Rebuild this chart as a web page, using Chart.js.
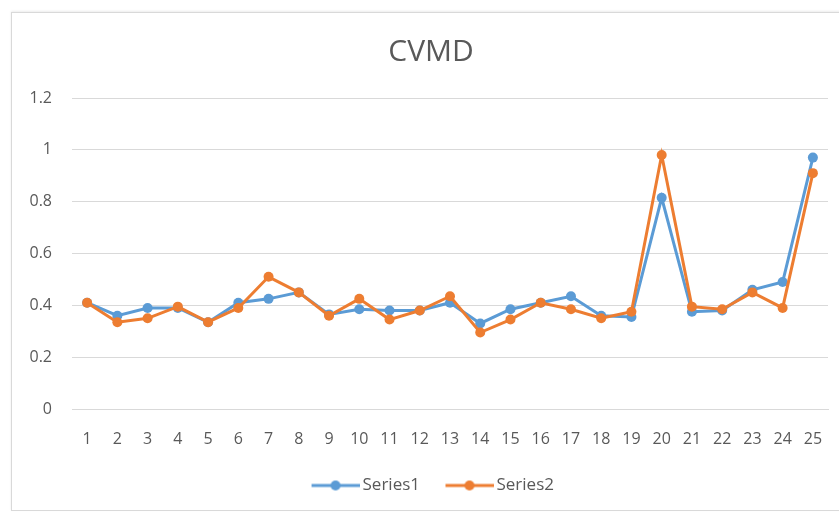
<!DOCTYPE html>
<html>
<head>
<meta charset="utf-8">
<script src="https://cdn.jsdelivr.net/npm/chart.js@4/dist/chart.umd.min.js"></script>
<style>
  html, body { margin: 0; padding: 0; background: #ffffff; }
  #wrap { position: relative; width: 839px; height: 512px; }
  #frame { position: absolute; left: 11px; top: 12px; width: 840px; height: 497px; border: 1px solid #d9d9d9; box-shadow: 0 -1px 2px rgba(0,0,0,0.08); }
  canvas { position: absolute; left: 0; top: 0; }
</style>
</head>
<body>
<div id="wrap">
  <div id="frame"></div>
  <canvas id="lineChart" width="839" height="512"></canvas>
</div>
<script>
const categories = ['1','2','3','4','5','6','7','8','9','10','11','12','13','14','15','16','17','18','19','20','21','22','23','24','25'];
const series1 = [0.41,0.36,0.39,0.39,0.335,0.41,0.425,0.45,0.365,0.385,0.38,0.38,0.41,0.33,0.385,0.41,0.435,0.36,0.355,0.815,0.375,0.38,0.46,0.49,0.97];
const series2 = [0.41,0.335,0.35,0.395,0.335,0.39,0.51,0.45,0.36,0.425,0.345,0.38,0.435,0.295,0.345,0.41,0.385,0.35,0.375,0.98,0.395,0.385,0.45,0.39,0.91];
const yTicks = [0, 0.2, 0.4, 0.6, 0.8, 1, 1.2];

const blue = '#5b9bd5';
const orange = '#ed7d31';
const textColor = '#595959';
const gridColor = '#d9d9d9';
const fontFamily = '"Open Sans", "Liberation Sans", sans-serif';

const legendBox = 58;

// legend marker: line with a dot, like Excel, sitting at the right of a wider box
function legendMarker(color) {
    const c = document.createElement('canvas');
    c.width = legendBox + 11;
    c.height = 12;
    const g = c.getContext('2d');
    const x0 = c.width - 48;
    g.strokeStyle = color;
    g.lineWidth = 3;
    g.beginPath();
    g.moveTo(x0, 6);
    g.lineTo(x0 + 48, 6);
    g.stroke();
    g.fillStyle = color;
    g.beginPath();
    g.arc(x0 + 24, 6, 5, 0, Math.PI * 2);
    g.fill();
    return c;
}

// the y labels stick out left of the narrow y box, so widen its clip area
// and nudge the legend a bit left
const nudgePlugin = {
    id: 'nudge',
    afterLayout(chart) {
        chart.legend.left -= 6;
        chart.legend.right -= 6;
    },
    beforeDraw(chart) {
        chart.scales.y.left = 0;
    }
};

function initLineChart() {
    const ctx = document.getElementById('lineChart');
    new Chart(ctx, {
        type: 'line',
        data: {
            labels: categories,
            datasets: [{
                label: 'Series1',
                data: series1,
                borderColor: blue,
                backgroundColor: blue,
                borderWidth: 3,
                pointRadius: 5,
                pointHoverRadius: 5,
                pointBorderWidth: 0,
                pointStyle: 'circle',
                tension: 0,
                order: 1
            }, {
                label: 'Series2',
                data: series2,
                borderColor: orange,
                backgroundColor: orange,
                borderWidth: 3,
                pointRadius: 5,
                pointHoverRadius: 5,
                pointBorderWidth: 0,
                pointStyle: 'circle',
                tension: 0,
                order: 0
            }]
        },
        options: {
            responsive: false,
            animation: false,
            layout: { padding: { left: 34, right: 11, top: 0, bottom: 8 } },
            plugins: {
                title: {
                    display: true,
                    text: 'CVMD',
                    color: textColor,
                    font: { family: fontFamily, size: 30, weight: 'normal' },
                    padding: { top: 34, bottom: 28 }
                },
                legend: {
                    position: 'bottom',
                    labels: {
                        color: textColor,
                        font: { family: fontFamily, size: 17 },
                        usePointStyle: true,
                        pointStyleWidth: legendBox,
                        padding: 10,
                        generateLabels: function(chart) {
                            return chart.data.datasets.map(function(ds, i) {
                                return {
                                    text: ds.label,
                                    fontColor: textColor,
                                    pointStyle: legendMarker(ds.borderColor),
                                    datasetIndex: i,
                                    lineWidth: 0,
                                    strokeStyle: ds.borderColor,
                                    fillStyle: ds.borderColor
                                };
                            });
                        }
                    }
                },
                tooltip: { enabled: false }
            },
            scales: {
                x: {
                    offset: true,
                    grid: { display: false },
                    border: { display: true, color: gridColor, width: 1 },
                    ticks: {
                        color: textColor,
                        font: { family: fontFamily, size: 16 },
                        padding: 13,
                        maxRotation: 0,
                        autoSkip: false
                    },
                    afterFit: function(scale) { scale.height = 58; }
                },
                y: {
                    min: 0,
                    max: 1.2,
                    afterBuildTicks: function(scale) {
                        scale.ticks = yTicks.map(function(v) { return { value: v }; });
                    },
                    grid: { color: gridColor, drawTicks: false },
                    border: { display: false },
                    ticks: {
                        color: textColor,
                        font: { family: fontFamily, size: 16 },
                        padding: 20,
                        callback: function(v) { return String(Math.round(v * 10) / 10); }
                    },
                    afterFit: function(scale) { scale.width = 38; }
                }
            }
        },
        plugins: [nudgePlugin]
    });
}

initLineChart();
</script>
</body>
</html>
